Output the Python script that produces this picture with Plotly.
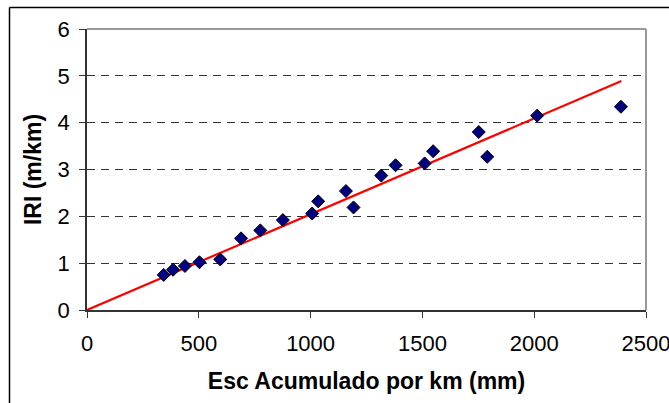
import plotly.graph_objects as go

# Data
esc_mm = [343, 385, 438, 503, 596, 689, 775, 876, 1007, 1034,
          1158, 1192, 1316, 1380, 1510, 1548, 1752, 1790, 2013, 2388]
iri = [0.75, 0.86, 0.94, 1.02, 1.08, 1.53, 1.70, 1.92, 2.06, 2.32,
       2.54, 2.19, 2.87, 3.09, 3.13, 3.39, 3.80, 3.27, 4.15, 4.34]
trend_x = [0, 2390]
trend_y = [0, 4.89]
x_ticks = [0, 500, 1000, 1500, 2000, 2500]
y_ticks = [0, 1, 2, 3, 4, 5, 6]

FONT = "Liberation Sans, Arial, sans-serif"

fig = go.Figure()
fig.add_trace(go.Scatter(
    x=trend_x, y=trend_y, mode="lines",
    line=dict(color="#ff0000", width=2.2), showlegend=False, hoverinfo="skip"))
fig.add_trace(go.Scatter(
    x=esc_mm, y=iri, mode="markers",
    marker=dict(symbol="diamond", size=10, color="#000080",
                line=dict(color="#000000", width=1)),
    showlegend=False))

ml, mr, mt, mb = 87, 23, 29, 93
W, H = 669, 403
pw, ph = W - ml - mr, H - mt - mb

def px_x(p):
    return (p - ml) / pw

def px_y(p):
    return 1 - (p - mt) / ph

shapes = [
    # top and right plot borders (gray)
    dict(type="line", xref="paper", yref="paper", x0=0, x1=1, y0=1, y1=1,
         line=dict(color="#999999", width=2)),
    dict(type="line", xref="paper", yref="paper", x0=1, x1=1, y0=0, y1=1,
         line=dict(color="#999999", width=2)),
    # outer chart frame (left and top visible)
    dict(type="line", xref="paper", yref="paper", x0=px_x(9.5), x1=px_x(W + 5),
         y0=px_y(7.5), y1=px_y(7.5), line=dict(color="#000000", width=1.5)),
    dict(type="line", xref="paper", yref="paper", x0=px_x(9.5), x1=px_x(9.5),
         y0=px_y(7.5), y1=px_y(H + 5), line=dict(color="#000000", width=1.5)),
]

fig.update_layout(
    width=W, height=H,
    margin=dict(l=ml, r=mr, t=mt, b=mb, pad=0, autoexpand=False),
    paper_bgcolor="white", plot_bgcolor="white",
    font=dict(family=FONT, color="#000000", size=22),
    shapes=shapes,
    xaxis=dict(
        range=[0, 2500], tickvals=x_ticks, ticktext=[str(v) for v in x_ticks],
        showgrid=False, zeroline=False, automargin=False,
        showline=True, linecolor="#333333", linewidth=1.5,
        ticks="outside", ticklen=6, tickcolor="#333333", tickwidth=1.2,
        tickfont=dict(size=22), ticklabelstandoff=7,
        ticklabeloverflow="allow",
        title=dict(text="<b>Esc Acumulado por km (mm)</b>",
                   font=dict(size=23), standoff=18),
    ),
    yaxis=dict(
        range=[0, 6], tickvals=y_ticks, ticktext=[str(v) for v in y_ticks],
        showgrid=True, gridcolor="#333333", gridwidth=1, griddash="8px,6px",
        zeroline=False, automargin=False,
        showline=True, linecolor="#333333", linewidth=1.5,
        ticks="outside", ticklen=6, tickcolor="#333333", tickwidth=1.2,
        tickfont=dict(size=22), ticklabelstandoff=5,
        title=dict(text="<b>IRI (m/km)</b>", font=dict(size=23), standoff=10),
    ),
)

fig.write_html("out.html")
